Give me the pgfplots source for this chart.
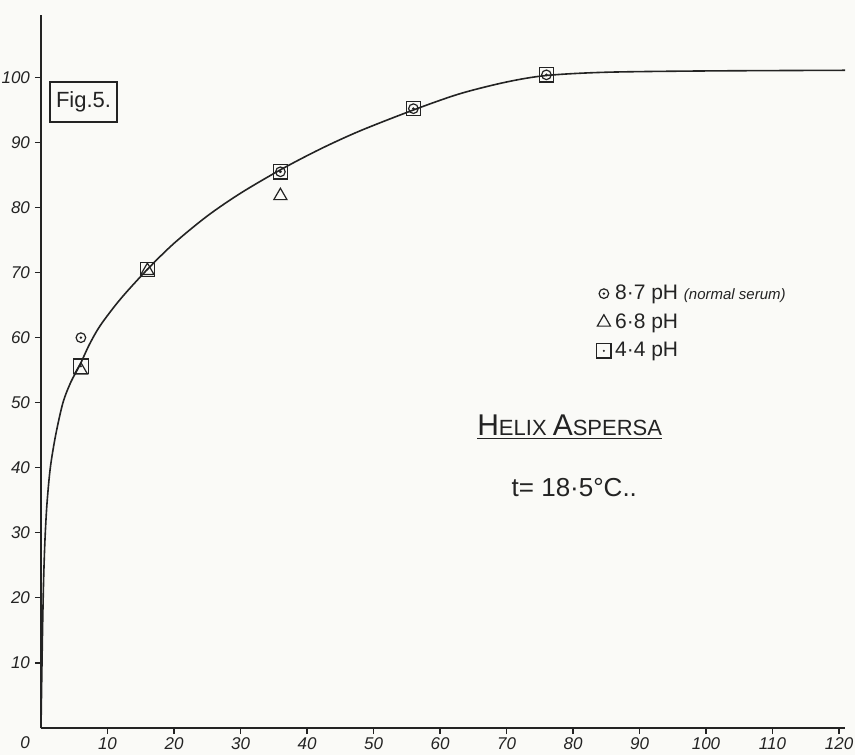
\documentclass[border=0pt]{standalone}
\usepackage{fontspec}
\setmainfont{Liberation Sans}
\usepackage{pgfplots}
\pgfplotsset{compat=1.18}
\definecolor{ink}{RGB}{35,35,35}
\definecolor{paper}{RGB}{250,250,247}
\pgfdeclareplotmark{circdot}{%
  \pgfpathcircle{\pgfpointorigin}{\pgfplotmarksize}\pgfusepathqstroke
  \pgfpathcircle{\pgfpointorigin}{0.7pt}\pgfusepathqfill}
\pgfdeclareplotmark{sqdot}{%
  \pgfpathrectangle{\pgfpoint{-\pgfplotmarksize}{-\pgfplotmarksize}}{\pgfpoint{2\pgfplotmarksize}{2\pgfplotmarksize}}\pgfusepathqstroke
  \pgfpathcircle{\pgfpointorigin}{0.6pt}\pgfusepathqfill}
\begin{document}
\begin{tikzpicture}
\fill[paper] (0,0) rectangle (427.5pt,377.5pt);
\useasboundingbox (0,0) rectangle (427.5pt,377.5pt);
\begin{axis}[
  at={(20.5pt,13.5pt)}, anchor=south west,
  scale only axis, width=402pt, height=356.5pt,
  xmin=0, xmax=120.9, ymin=0, ymax=109.6,
  axis x line*=bottom, axis y line*=left,
  axis line style={ink, line width=1pt},
  xtick={10,20,...,120}, ytick={10,20,...,100},
  tick align=outside, major tick length=3pt,
  tick style={ink, line width=0.6pt},
  ticklabel style={font=\fontsize{8.5}{9}\selectfont\itshape, text=ink},
  xticklabel style={yshift=1.5pt},
  yticklabel style={xshift=1pt},
  /pgf/number format/assume math mode=true,
  clip=false,
  legend style={at={(axis cs:83.5,68.8)}, anchor=north west, draw=none, fill=none,
    font=\fontsize{10.5}{12}\selectfont, text=ink, row sep=1.5pt, inner sep=0pt,
    /tikz/every even column/.append style={column sep=4pt}},
  legend cell align=left,
]
% fitted curve
\addplot[ink, line width=0.8pt, smooth, forget plot] coordinates {
 (0,0) (0.12,8) (0.25,16) (0.4,23) (0.6,29) (0.9,34.5) (1.4,40) (2.2,45)
 (3.3,50) (4.5,53.2) (5.8,55.7) (7.3,59) (9,62) (12,66) (16,70.5) (20,74.5)
 (25,78.7) (30,82.2) (36,85.8) (42,89) (48,91.8) (56,95) (63,97.5) (70,99.3)
 (76,100.3) (85,100.8) (100,101) (120.9,101.1)
};
% 8.7 pH (normal serum)
\addplot[only marks, mark=circdot, mark size=2.4pt, ink, line width=0.6pt] coordinates {
 (6,60) (36,85.5) (56,95.2) (76,100.4)
};
\addlegendentry{8·7 pH {\fontsize{7.5}{9}\selectfont\itshape (normal serum)}}
% 6.8 pH
\addplot[only marks, mark=triangle, mark size=3.8pt, ink, line width=0.6pt] coordinates {
 (6,55) (16,70.3) (36,81.8)
};
\addlegendentry{6·8 pH}
% 4.4 pH
\addplot[only marks, mark=sqdot, mark size=3.6pt, ink, line width=0.6pt] coordinates {
 (6,55.6) (16,70.5) (36,85.5) (56,95.2) (76,100.4)
};
\addlegendentry{4·4 pH}
\node[draw=ink, line width=0.7pt, inner sep=3pt, font=\fontsize{11}{13}\selectfont, text=ink,
  minimum width=31pt, minimum height=20pt] at (axis cs:6.4,96.2) {Fig.5.};
\node[font=\fontsize{8.5}{9}\selectfont\itshape, text=ink] at (axis cs:-2.4,-2.3) {0};
\node[text=ink] at (axis cs:79.5,46.2) {\underline{\fontsize{15}{18}\selectfont H\fontsize{11}{13}\selectfont ELIX \fontsize{15}{18}\selectfont A\fontsize{11}{13}\selectfont SPERSA}};
\node[text=ink, font=\fontsize{13}{15}\selectfont] at (axis cs:80.2,37) {t= 18·5°C..};
\end{axis}
\end{tikzpicture}
\end{document}
